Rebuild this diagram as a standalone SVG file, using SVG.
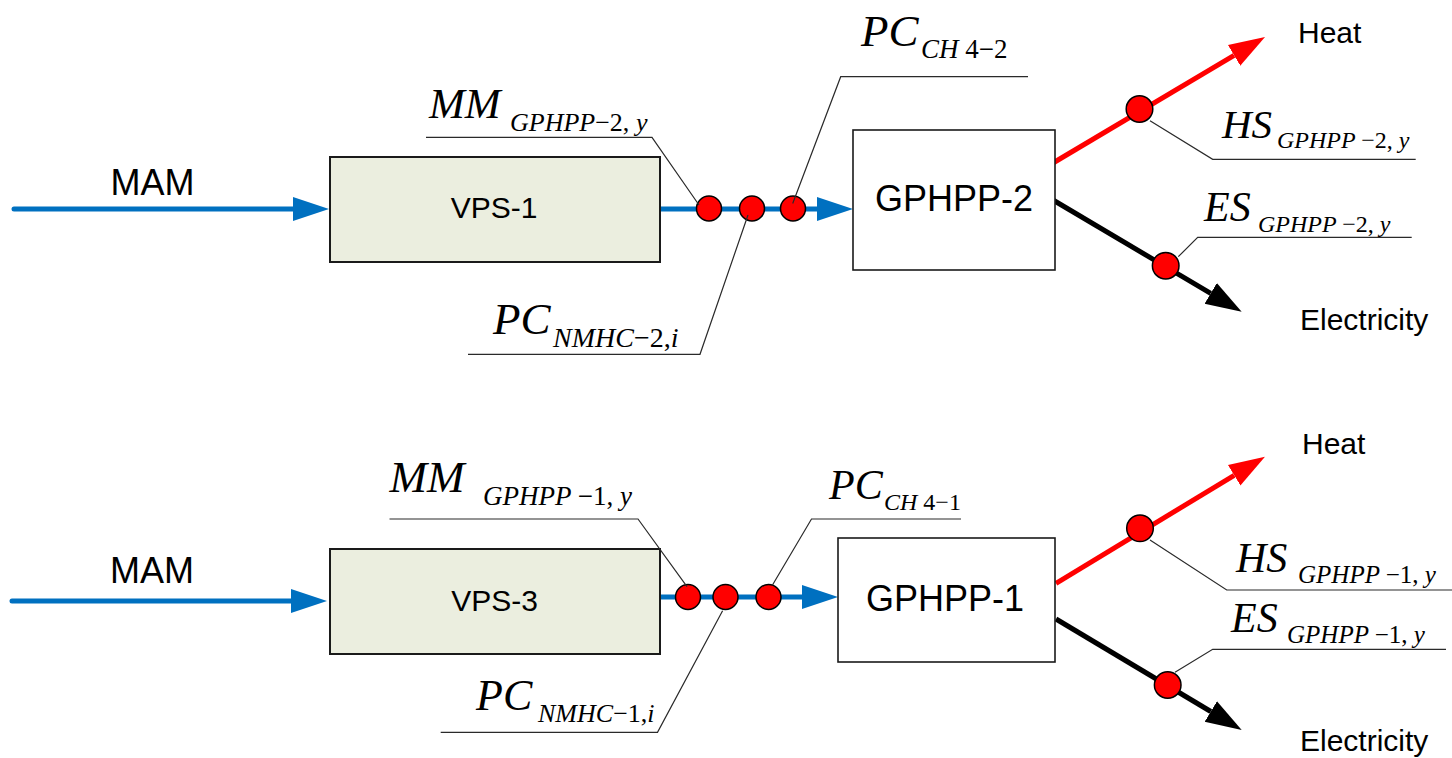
<svg xmlns="http://www.w3.org/2000/svg" width="1452" height="758" viewBox="0 0 1452 758">
<style>
.box1{fill:#EBEEDF;stroke:#1a1a1a;stroke-width:2}
.box2{fill:#ffffff;stroke:#1a1a1a;stroke-width:1.6}
.sans{font-family:"Liberation Sans",Arial,sans-serif;fill:#000}
.m{font-family:"Liberation Serif","Times New Roman",serif;font-style:italic;fill:#000}
.u{font-style:normal}
.blue{stroke:#0070C0;stroke-width:5;fill:none;stroke-linecap:round}
.red{stroke:#FF0000;stroke-width:5;fill:none}
.blk{stroke:#000;stroke-width:5;fill:none}
.dot{fill:#FF0000;stroke:#000;stroke-width:1.5}
.lead{stroke:#2a2a2a;stroke-width:1.2;fill:none}
</style>
<defs>
<marker id="ab" markerUnits="userSpaceOnUse" markerWidth="40" markerHeight="30" refX="0" refY="12" orient="auto" viewBox="0 0 40 24"><path d="M0,0 L36,12 L0,24 z" fill="#0070C0"/></marker>
<marker id="ar" markerUnits="userSpaceOnUse" markerWidth="40" markerHeight="30" refX="0" refY="12" orient="auto" viewBox="0 0 40 24"><path d="M0,0 L36,12 L0,24 z" fill="#FF0000"/></marker>
<marker id="ak" markerUnits="userSpaceOnUse" markerWidth="40" markerHeight="30" refX="0" refY="12" orient="auto" viewBox="0 0 40 24"><path d="M0,0 L36,12 L0,24 z" fill="#000"/></marker>
</defs>

<g id="connectors">
<path class="blue" d="M14,209 L293,209" marker-end="url(#ab)"/>
<path class="blue" d="M659,209 L817,209" marker-end="url(#ab)"/>
<path class="red" d="M1053,163 L1234.1,55.4" marker-end="url(#ar)"/>
<path class="blk" d="M1053,200 L1210.7,293.4" marker-end="url(#ak)"/>
<path class="blue" d="M12,601 L291,601" marker-end="url(#ab)"/>
<path class="blue" d="M660,597 L802,597" marker-end="url(#ab)"/>
<path class="red" d="M1056,583.3 L1234.2,475.3" marker-end="url(#ar)"/>
<path class="blk" d="M1056,619 L1210.8,711.5" marker-end="url(#ak)"/>
</g>

<g id="vps1"><rect class="box1" x="330" y="157" width="330" height="105"/><text class="sans" x="494" y="218" font-size="30" text-anchor="middle">VPS-1</text></g>
<g id="gphpp2"><rect class="box2" x="853" y="130" width="202" height="140"/><text class="sans" x="954" y="211" font-size="36" text-anchor="middle">GPHPP-2</text></g>
<g id="vps3"><rect class="box1" x="330" y="549" width="330" height="105"/><text class="sans" x="494.5" y="611" font-size="30" text-anchor="middle">VPS-3</text></g>
<g id="gphpp1"><rect class="box2" x="838" y="538" width="217" height="124"/><text class="sans" x="945" y="611" font-size="36" text-anchor="middle">GPHPP-1</text></g>

<g id="labels-plain">
<text class="sans" x="152.5" y="195" font-size="36" text-anchor="middle">MAM</text>
<text class="sans" x="152" y="583" font-size="36" text-anchor="middle">MAM</text>
<text class="sans" x="1298" y="43" font-size="30">Heat</text>
<text class="sans" x="1300" y="330" font-size="30">Electricity</text>
<text class="sans" x="1302" y="454" font-size="30">Heat</text>
<text class="sans" x="1300" y="751" font-size="30">Electricity</text>
</g>

<g id="measure-points">
<circle class="dot" cx="709" cy="208.5" r="12.5"/>
<circle class="dot" cx="752" cy="208.5" r="12.5"/>
<circle class="dot" cx="793" cy="208.5" r="12.5"/>
<circle class="dot" cx="1139.5" cy="109" r="13.3"/>
<circle class="dot" cx="1165.7" cy="265.7" r="13.3"/>
<circle class="dot" cx="688" cy="597" r="12.5"/>
<circle class="dot" cx="725.5" cy="597" r="12.5"/>
<circle class="dot" cx="768.5" cy="597" r="12.5"/>
<circle class="dot" cx="1140" cy="528.3" r="13.3"/>
<circle class="dot" cx="1167.7" cy="685" r="13.3"/>
</g>

<g id="leaders">
<path class="lead" d="M426,137.3 L652,137.3 L699,205"/>
<path class="lead" d="M1028,76.7 L840.7,76.7 L792.7,203.5"/>
<path class="lead" d="M468,354.3 L700,354.3 L748,215"/>
<path class="lead" d="M1150,120.7 L1212.7,159.3 L1415.7,159.3"/>
<path class="lead" d="M1178.3,256.7 L1197.7,237.3 L1411.7,237.3"/>
<path class="lead" d="M389.5,519 L638,519 L687,586.7"/>
<path class="lead" d="M961,519 L811.5,519 L772.5,585"/>
<path class="lead" d="M440.7,732.3 L657.5,732.3 L722.6,610.7"/>
<path class="lead" d="M1150,540 L1226.7,590 L1452,590"/>
<path class="lead" d="M1175,672.3 L1212.7,649.3 L1446,649.3"/>
</g>

<g id="math-labels">
<text class="m" x="429" y="118" font-size="43">MM</text>
<text class="m" x="510" y="131" font-size="26">GPHPP<tspan class="u">−2, </tspan>y</text>
<text class="m" x="861" y="46" font-size="45">PC</text>
<text class="m" x="921" y="58" font-size="27">CH <tspan class="u">4−2</tspan></text>
<text class="m" x="493" y="334" font-size="45">PC</text>
<text class="m" x="553" y="347" font-size="28">NMHC<tspan class="u">−2,</tspan>i</text>
<text class="m" x="1222" y="138" font-size="41">HS</text>
<text class="m" x="1277" y="148" font-size="24">GPHPP <tspan class="u">−2, </tspan>y</text>
<text class="m" x="1204" y="221" font-size="42">ES</text>
<text class="m" x="1258" y="232" font-size="24">GPHPP <tspan class="u">−2, </tspan>y</text>

<text class="m" x="389.5" y="492" font-size="45">MM</text>
<text class="m" x="483" y="505" font-size="27">GPHPP <tspan class="u">−1, </tspan>y</text>
<text class="m" x="829" y="499" font-size="42">PC</text>
<text class="m" x="884" y="510" font-size="24">CH <tspan class="u">4−1</tspan></text>
<text class="m" x="476" y="710" font-size="44">PC</text>
<text class="m" x="538" y="722" font-size="26">NMHC<tspan class="u">−1,</tspan>i</text>
<text class="m" x="1236" y="572" font-size="42">HS</text>
<text class="m" x="1298" y="583" font-size="25">GPHPP <tspan class="u">−1, </tspan>y</text>
<text class="m" x="1231" y="632" font-size="42">ES</text>
<text class="m" x="1287" y="643" font-size="25">GPHPP <tspan class="u">−1, </tspan>y</text>
</g>
</svg>
